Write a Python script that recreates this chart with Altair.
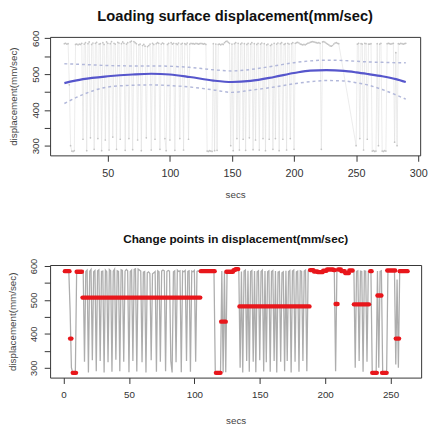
import altair as alt
import pandas as pd

# displacement series (mm/sec), one value per second
disp = [
    585, 586, 584, 585, 470, 300, 285, 284, 286, 583, 584, 582, 584, 583,
    586, 318, 584, 588, 286, 585, 590, 322, 583, 587, 290, 586, 589, 320, 584, 585,
    286, 588, 583, 316, 590, 586, 288, 585, 591, 324, 586, 584, 290, 589, 587, 318,
    585, 590, 586, 287, 584, 588, 320, 590, 592, 289, 591, 588, 585, 316, 582, 584,
    286, 580, 583, 578, 322, 577, 580, 584, 288, 586, 583, 318, 585, 588, 586, 290,
    584, 587, 585, 320, 286, 583, 586, 316, 588, 584, 586, 287, 585, 583, 587, 320,
    584, 586, 288, 585, 583, 587, 318, 584, 586, 585,
    585, 584, 586, 585, 584, 585, 586, 585, 584, 585, 583,
    285, 284, 286, 285, 284,
    585, 286, 584, 287,
    583, 584, 582, 584, 583,
    588, 591, 592, 589,
    586, 300, 584, 286, 585, 588, 320, 586, 288, 584, 587, 318, 585, 287, 583, 586,
    322, 584, 588, 289, 585, 316, 583, 586, 288, 584, 587, 320, 585, 286, 582, 584,
    318, 580, 583, 290, 586, 320, 584, 587, 286, 585, 588, 318, 583, 585, 288, 586,
    584, 320, 585, 588, 290, 586,
    588, 589, 587, 584, 583, 582, 583, 582, 584, 586, 587, 589, 590, 591, 590, 589,
    588, 587, 588, 586,
    290,
    590, 591, 589, 586, 584, 582, 579, 578, 580, 584, 587, 588, 586,
    585, 300, 584, 586, 320, 585, 584, 288, 586, 585, 318, 584,
    584, 585,
    285, 286, 284, 285,
    585, 300, 584, 586,
    285, 284, 286, 285,
    585, 586, 585, 584, 585, 586,
    310, 560, 300,
    585, 584, 586, 585, 584, 585, 586,
]
secs = list(range(1, len(disp) + 1))

# time stamps used in the upper panel (a recording gap after second 222)
gap_after = 222
shift_before = 14
shift_after = 27
top_secs = [s + (shift_before if s <= gap_after else shift_after) for s in secs]

# smoothed fit and its band
fit_secs = [15, 30, 50, 70, 85, 100, 116, 135, 150, 165, 184, 200, 213, 226, 240, 250, 260, 271, 282, 290]
fit_mid = [475, 486, 494, 499, 501, 499, 492, 482, 478, 481, 492, 503, 510, 511, 509, 505, 500, 494, 486, 478]
fit_upper = [529, 527, 524, 523, 523, 522, 519, 512, 509, 513, 523, 532, 537, 539, 538, 536, 534, 533, 532, 532]
fit_lower = [418, 443, 464, 469, 470, 468, 464, 456, 449, 455, 464, 473, 479, 482, 481, 476, 469, 457, 442, 430]

# change-point segments (start sec, end sec, segment mean)
seg_start = [1, 5, 7, 10, 14.5, 105, 116.5, 120.5, 124.5, 130, 131.5, 134.5,
             188.5, 191.5, 194.5, 198.5, 201.5, 206.5, 208, 210, 212.5, 215.5, 218.5,
             222, 234.5, 236, 240, 243.5, 247.5, 254, 257]
seg_end = [4.5, 6, 9.5, 14, 104.5, 115.5, 120, 124, 129.5, 131, 133.5, 188,
           191, 194, 198, 201, 206, 207.5, 209.5, 212, 215, 218, 221,
           233.5, 235.5, 239.5, 243, 247, 253.5, 256.5, 263]
seg_mean = [585, 386, 285, 583, 507, 585, 285, 436, 583, 588, 591, 481,
            588, 584, 582, 586, 590, 588, 488, 590, 585, 579, 587,
            487, 585, 285, 513, 285, 587, 386, 585]

top_df = pd.DataFrame({"t": top_secs, "v": disp})
fit_df = pd.DataFrame({"t": fit_secs, "mid": fit_mid, "upper": fit_upper, "lower": fit_lower})
bot_df = pd.DataFrame({"t": secs, "v": disp})
seg_df = pd.DataFrame({"start": seg_start, "end": seg_end, "mean": seg_mean})

FONT = "Liberation Sans"
TOP_W, TOP_H = 378, 121
BOT_W, BOT_H = 379, 115

y_ticks = list(range(300, 601, 50))
hide_odd = "datum.value % 100 == 0 ? datum.label : ''"


def y_axis(label_pad, title_x, h, fs):
    return alt.Axis(values=y_ticks, labelExpr=hide_odd, labelAngle=270,
                    labelAlign="center", labelBaseline="middle", labelPadding=label_pad,
                    labelFontSize=fs, tickSize=6, title="displacement(mm/sec)",
                    titleX=title_x, titleY=h / 2, titleAngle=270, titleAlign="center",
                    titleBaseline="middle", titleFontSize=10, titleFontWeight="normal",
                    grid=False, domain=False, labelOverlap=False)


def x_axis(vals, label_pad, fs, w, title_y):
    return alt.Axis(values=vals, labelPadding=label_pad, labelFontSize=fs, tickSize=6,
                    labelFlush=False, title="secs", titleX=w / 2, titleY=title_y,
                    titleAlign="center", titleBaseline="middle", titleFontSize=10,
                    titleFontWeight="normal", grid=False, domain=False, labelOverlap=False)


xs_top = alt.Scale(domain=[3.5, 301.6], nice=False, zero=False)
ys_top = alt.Scale(domain=[273, 604], nice=False, zero=False)
xs_bot = alt.Scale(domain=[-10.3, 273.4], nice=False, zero=False)
ys_bot = alt.Scale(domain=[271, 603], nice=False, zero=False)

top_xax = x_axis([50, 100, 150, 200, 250, 300], 7, 11, TOP_W, 40)
top_yax = y_axis(9, -37, TOP_H, 10)
bot_xax = x_axis([0, 50, 100, 150, 200, 250], 6, 10, BOT_W, 44)
bot_yax = y_axis(11, -38, BOT_H, 9.5)

tx = alt.X("t:Q", scale=xs_top, axis=top_xax)
raw_top = alt.Chart(top_df).mark_line(color="#dedede", strokeWidth=0.6, clip=True).encode(
    x=tx, y=alt.Y("v:Q", scale=ys_top, axis=top_yax))
raw_top_pts = alt.Chart(top_df).mark_circle(color="#c4c4c4", size=3, opacity=1, clip=True).encode(
    x=tx, y=alt.Y("v:Q", scale=ys_top, axis=top_yax))
upper = alt.Chart(fit_df).mark_line(color="#b2b8da", strokeWidth=1.5, strokeDash=[3, 3],
                                    interpolate="monotone", clip=True).encode(
    x=tx, y=alt.Y("upper:Q", scale=ys_top, axis=top_yax))
lower = alt.Chart(fit_df).mark_line(color="#b2b8da", strokeWidth=1.5, strokeDash=[3, 3],
                                    interpolate="monotone", clip=True).encode(
    x=tx, y=alt.Y("lower:Q", scale=ys_top, axis=top_yax))
mid = alt.Chart(fit_df).mark_line(color="#5656cc", strokeWidth=2.2, interpolate="monotone",
                                  clip=True).encode(
    x=tx, y=alt.Y("mid:Q", scale=ys_top, axis=top_yax))

top = alt.layer(raw_top, raw_top_pts, upper, lower, mid).properties(
    width=TOP_W, height=TOP_H,
    title=alt.TitleParams("Loading surface displacement(mm/sec)", fontSize=15,
                          fontWeight="bold", anchor="middle", frame="group", offset=6,
                          color="#111111", font=FONT))

raw_bot = alt.Chart(bot_df).mark_line(color="#adadad", strokeWidth=1.3, clip=True).encode(
    x=alt.X("t:Q", scale=xs_bot, axis=bot_xax), y=alt.Y("v:Q", scale=ys_bot, axis=bot_yax))
segs = alt.Chart(seg_df).mark_rule(color="#e8161b", strokeWidth=4.5, strokeCap="round",
                                   clip=True).encode(
    x=alt.X("start:Q", scale=xs_bot, axis=bot_xax), x2="end:Q",
    y=alt.Y("mean:Q", scale=ys_bot, axis=bot_yax))

bottom = alt.layer(raw_bot, segs).properties(
    width=BOT_W, height=BOT_H,
    title=alt.TitleParams("Change points in displacement(mm/sec)", fontSize=12,
                          fontWeight="bold", anchor="middle", frame="group", offset=13,
                          color="#111111", font=FONT))

chart = alt.vconcat(top, bottom, spacing=32).properties(
    padding={"left": -1, "top": -4, "right": 0, "bottom": 0}, background="white"
).configure_view(stroke="#333333", strokeWidth=1).configure_axis(
    labelFont=FONT, titleFont=FONT, labelColor="#333333", titleColor="#444444",
    tickColor="#333333", titleFontWeight="normal"
)

chart.save("out.html", embed_options={"renderer": "svg", "actions": False})
